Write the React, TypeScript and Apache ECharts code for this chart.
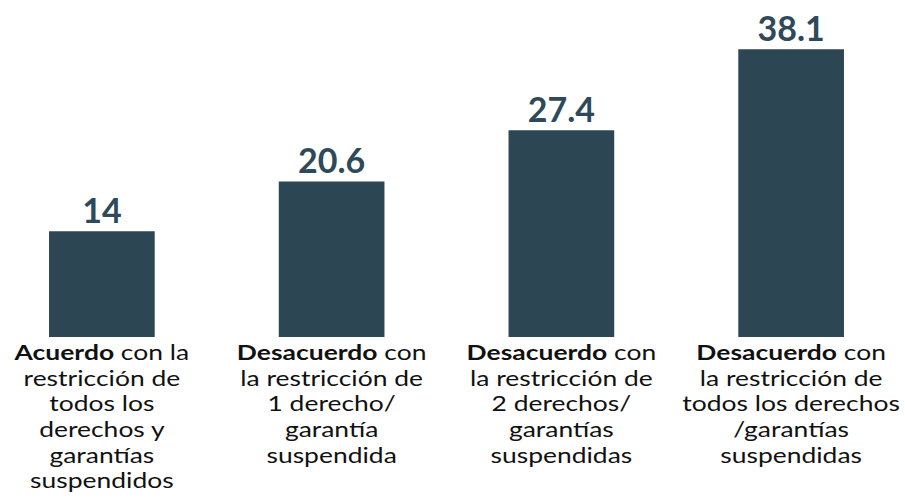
import React, { useEffect, useRef } from "react";
import * as echarts from "echarts";

const categories = ["Acuerdo", "Desacuerdo 1", "Desacuerdo 2", "Desacuerdo todos"];
const categoryLabels = [
  "{b|Acuerdo} con la\nrestricción de\ntodos los\nderechos y\ngarantías\nsuspendidos",
  "{b|Desacuerdo} con\nla restricción de\n1 derecho/\ngarantía\nsuspendida",
  "{b|Desacuerdo} con\nla restricción de\n2 derechos/\ngarantías\nsuspendidas",
  "{b|Desacuerdo} con\nla restricción de\ntodos los derechos\n/garantías\nsuspendidas",
];
const values = [14, 20.6, 27.4, 38.1];

export default function App() {
  const ref = useRef<HTMLDivElement>(null);
  useEffect(() => {
    const chart = echarts.init(ref.current!, null, { renderer: "svg" });
    chart.setOption({
      animation: false,
      grid: { left: -13, right: -1, top: 35, bottom: 161, outerBoundsMode: "none", containLabel: false },
      xAxis: {
        type: "category",
        data: categories,
        axisLine: { show: false },
        axisTick: { show: false },
        axisLabel: { show: false },
      },
      yAxis: {
        type: "value",
        min: 0,
        max: 40,
        show: false,
        splitLine: { show: false },
      },
      series: [
        {
          type: "bar",
          data: values,
          barWidth: "46%",
          itemStyle: { color: "#2c4654" },
          label: {
            show: true,
            position: "top",
            distance: 5,
            color: "#2e4a5a",
            fontFamily: "Lato",
            fontWeight: "bold",
            fontSize: 34,
          },
        },
        {
          type: "custom",
          silent: true,
          data: categories.map((c, i) => [i, 0]),
          encode: { x: 0, y: 1 },
          renderItem: (params: any, api: any) => {
            const p = api.coord([api.value(0), 0]);
            return {
              type: "text",
              x: p[0],
              y: p[1] + 2,
              scaleX: 1.26,
              style: {
                text: categoryLabels[params.dataIndex],
                align: "center",
                verticalAlign: "top",
                fontFamily: "Lato",
                fontSize: 21,
                lineHeight: 25.6,
                fill: "#111111",
                rich: {
                  b: { fontWeight: "bold", fontFamily: "Lato", fontSize: 21, lineHeight: 25.6, fill: "#111111" },
                },
              },
            };
          },
        },
      ],
    });
    return () => chart.dispose();
  }, []);
  return (
    <div
      ref={ref}
      style={{ position: "absolute", left: 0, top: 0, width: 905, height: 498, background: "#ffffff" }}
    />
  );
}
